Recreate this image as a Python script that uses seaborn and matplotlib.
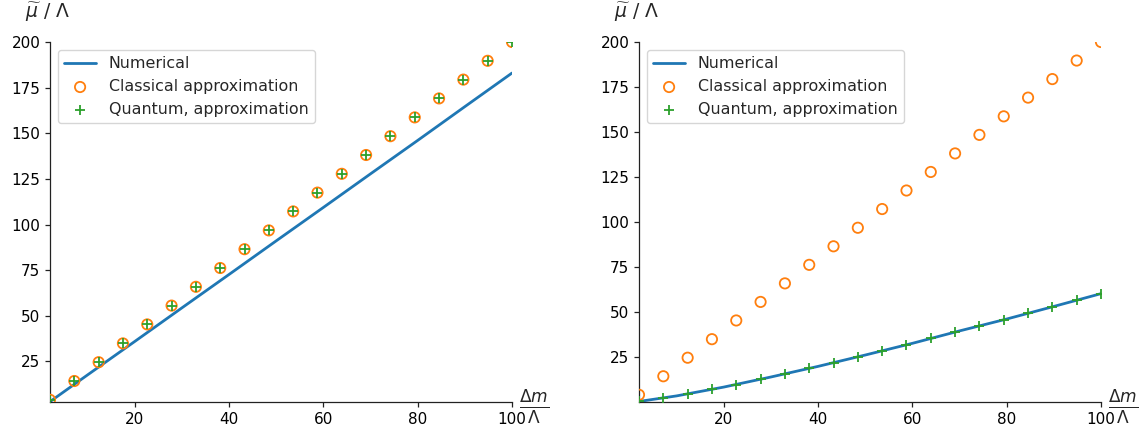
import numpy as np
import pandas as pd
import matplotlib
matplotlib.use("Agg")
import matplotlib.pyplot as plt
import seaborn as sns

# ---- data ----
x_points = [2.0, 7.16, 12.32, 17.47, 22.63, 27.79, 32.95, 38.11, 43.26, 48.42,
            53.58, 58.74, 63.89, 69.05, 74.21, 79.37, 84.53, 89.68, 94.84, 100.0]
classical = [4.0, 14.3, 24.6, 34.9, 45.3, 55.6, 65.9, 76.2, 86.5, 96.8,
             107.2, 117.5, 127.8, 138.1, 148.4, 158.7, 169.1, 179.4, 189.7, 200.0]
quantum_left = [4.0, 14.3, 24.6, 34.9, 45.3, 55.6, 65.9, 76.2, 86.5, 96.8,
                107.2, 117.5, 127.8, 138.1, 148.4, 158.7, 169.1, 179.4, 189.7, 200.0]
quantum_right = [0.3, 2.2, 4.4, 7.2, 9.4, 12.6, 15.6, 18.7, 21.8, 25.0,
                 28.5, 31.8, 35.3, 38.9, 42.2, 45.7, 49.4, 52.9, 56.4, 60.2]

x_num = [2, 10, 20, 30, 40, 50, 60, 70, 80, 90, 100]
numerical_left = [3.0, 17.7, 36.0, 54.4, 72.7, 91.1, 109.4, 127.8, 146.1, 164.6, 183.0]
numerical_right = [0.3, 3.4, 8.3, 13.9, 19.8, 26.1, 32.6, 39.5, 46.1, 53.1, 60.2]

x_ticks = [20, 40, 60, 80, 100]
y_ticks = [25, 50, 75, 100, 125, 150, 175, 200]
ylims = [(2.8, 200), (0.0, 200)]

sns.set_style("ticks")
plt.rcParams["font.family"] = ["DejaVu Sans"]
plt.rcParams["font.size"] = 11

fig = plt.figure(figsize=(11.42, 4.32), dpi=100)
ax1 = fig.add_axes([50 / 1142, 30 / 432, 462 / 1142, 360 / 432])
ax2 = fig.add_axes([639 / 1142, 30 / 432, 462 / 1142, 360 / 432])

panels = [
    (ax1, numerical_left, classical, quantum_left, ylims[0]),
    (ax2, numerical_right, classical, quantum_right, ylims[1]),
]

for ax, num, cls, qua, yl in panels:
    sns.lineplot(x=x_num, y=num, ax=ax, color="C0", linewidth=2,
                 label="Numerical")
    sns.scatterplot(x=x_points, y=cls, ax=ax, marker="o", s=55,
                    facecolors="none", edgecolor="C1", linewidth=1.3,
                    label="Classical approximation", zorder=3)
    sns.scatterplot(x=x_points, y=qua, ax=ax, marker="+", s=55,
                    color="C2", linewidth=1.3,
                    label="Quantum, approximation", zorder=4)
    ax.set_xlim(2, 100)
    ax.set_ylim(*yl)
    ax.set_xticks(x_ticks)
    ax.set_yticks(y_ticks)
    sns.despine(ax=ax)
    ax.tick_params(labelsize=11, length=3.5, width=0.9, colors="#222222",
                   labelcolor="black")
    for s in ("left", "bottom"):
        ax.spines[s].set_linewidth(0.9)
        ax.spines[s].set_color("#222222")
    ax.legend(loc="upper left", fontsize=11.4, frameon=True)
    ax.text(-0.054, 1.068, r"$\widetilde{\mu}$ / $\Lambda$", transform=ax.transAxes,
            ha="left", va="baseline", fontsize=13.5)
    ax.text(1.016, -0.015, r"$\frac{\Delta m}{\Lambda}$", transform=ax.transAxes,
            ha="left", va="center", fontsize=17.5)
    ax.set_xlabel("")
    ax.set_ylabel("")

fig.savefig("out.png", dpi=100)
